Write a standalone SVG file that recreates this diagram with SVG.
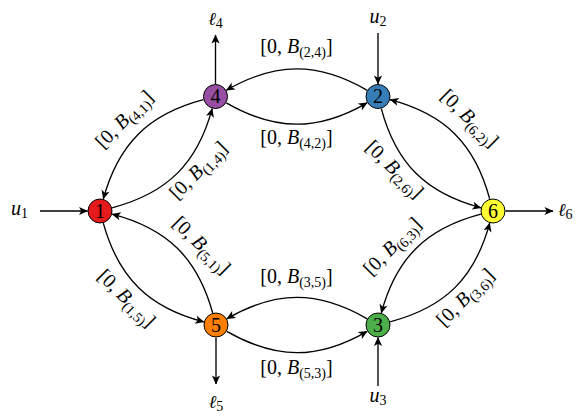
<svg xmlns="http://www.w3.org/2000/svg" width="577" height="416" viewBox="0 0 577 416">
  <defs>
    <marker id="ah" viewBox="-9 -5 10 10" refX="0" refY="0" markerWidth="10" markerHeight="10" orient="auto" markerUnits="userSpaceOnUse">
      <path d="M0.5,0 L-8.5,-4.1 L-6.2,0 L-8.5,4.1 Z" fill="#000"/>
    </marker>
    <style>
      .e { fill: none; stroke: #000; stroke-width: 1.35; marker-end: url(#ah); }
      .n { stroke: #000; stroke-width: 1; }
      .t { font-family: "Liberation Serif", "Times New Roman", serif; font-size: 20px; fill: #000; }
      .i { font-style: italic; }
      .s { font-size: 14px; font-style: normal; }
      .ell { font-family: "DejaVu Serif", serif; font-style: italic; font-size: 18px; }
    </style>
  </defs>
  <rect width="577" height="416" fill="#fff"/>

  <!-- directed links between the six nodes, plus inputs and outputs -->
  <g id="edges">
    <path class="e" d="M367.2,90.3 C317.8,61.8 275.7,61.8 226.3,90.3"/>
    <path class="e" d="M226.3,102.8 C275.7,131.3 317.8,131.3 367.2,102.8"/>
    <path class="e" d="M367.2,318.8 C317.8,290.3 276.2,290.3 226.8,318.8"/>
    <path class="e" d="M226.8,331.3 C276.2,359.8 317.8,359.8 367.2,331.3"/>
    <path class="e" d="M203.4,99.7 C148.3,114.2 118.3,144.0 103.3,198.9"/>
    <path class="e" d="M112.1,207.8 C167.2,193.3 197.2,163.6 212.2,108.6"/>
    <path class="e" d="M103.3,223.1 C118.6,278.0 148.7,307.6 203.9,321.9"/>
    <path class="e" d="M212.7,313.0 C197.4,258.0 167.3,228.4 112.1,214.1"/>
    <path class="e" d="M381.3,108.6 C396.1,163.6 425.8,193.2 480.9,207.8"/>
    <path class="e" d="M489.7,198.9 C474.9,143.9 445.2,114.3 390.1,99.7"/>
    <path class="e" d="M480.9,214.2 C425.8,228.7 396.3,258.0 381.3,312.9"/>
    <path class="e" d="M390.1,321.8 C445.2,307.3 474.7,278.1 489.7,223.1"/>
    <path class="e" d="M40,211 H87.5"/>
    <path class="e" d="M505.5,211 H553"/>
    <path class="e" d="M215.5,84 V35"/>
    <path class="e" d="M378,33 V84"/>
    <path class="e" d="M216,337.5 V384"/>
    <path class="e" d="M378,386 V337.5"/>
  </g>

  <!-- capacity intervals on the links -->
  <g id="edge-labels" class="t" text-anchor="middle">
    <text x="296.5" y="53">[0, <tspan class="i">B</tspan><tspan class="s" dy="4">(2,4)</tspan><tspan dy="-4">]</tspan></text>
    <text x="296.5" y="144">[0, <tspan class="i">B</tspan><tspan class="s" dy="4">(4,2)</tspan><tspan dy="-4">]</tspan></text>
    <text x="296.5" y="283">[0, <tspan class="i">B</tspan><tspan class="s" dy="4">(3,5)</tspan><tspan dy="-4">]</tspan></text>
    <text x="296.5" y="374">[0, <tspan class="i">B</tspan><tspan class="s" dy="4">(5,3)</tspan><tspan dy="-4">]</tspan></text>
    <text transform="translate(126,121) rotate(-45)" y="4">[0, <tspan class="i">B</tspan><tspan class="s" dy="4">(4,1)</tspan><tspan dy="-4">]</tspan></text>
    <text transform="translate(200,172) rotate(-45)" y="4">[0, <tspan class="i">B</tspan><tspan class="s" dy="4">(1,4)</tspan><tspan dy="-4">]</tspan></text>
    <text transform="translate(468,120) rotate(45)" y="4">[0, <tspan class="i">B</tspan><tspan class="s" dy="4">(6,2)</tspan><tspan dy="-4">]</tspan></text>
    <text transform="translate(393,171) rotate(45)" y="4">[0, <tspan class="i">B</tspan><tspan class="s" dy="4">(2,6)</tspan><tspan dy="-4">]</tspan></text>
    <text transform="translate(200,247) rotate(45)" y="4">[0, <tspan class="i">B</tspan><tspan class="s" dy="4">(5,1)</tspan><tspan dy="-4">]</tspan></text>
    <text transform="translate(125,300) rotate(45)" y="4">[0, <tspan class="i">B</tspan><tspan class="s" dy="4">(1,5)</tspan><tspan dy="-4">]</tspan></text>
    <text transform="translate(394,248) rotate(-45)" y="4">[0, <tspan class="i">B</tspan><tspan class="s" dy="4">(6,3)</tspan><tspan dy="-4">]</tspan></text>
    <text transform="translate(467,299) rotate(-45)" y="4">[0, <tspan class="i">B</tspan><tspan class="s" dy="4">(3,6)</tspan><tspan dy="-4">]</tspan></text>
  </g>

  <!-- inputs u and outputs ℓ -->
  <g id="io-labels" class="t">
    <text x="11" y="215"><tspan class="i">u</tspan><tspan class="s" dy="3">1</tspan></text>
    <text x="558" y="216"><tspan class="ell">ℓ</tspan><tspan class="s" dy="3">6</tspan></text>
    <text x="215.5" y="25" text-anchor="middle"><tspan class="ell">ℓ</tspan><tspan class="s" dy="3">4</tspan></text>
    <text x="378" y="23" text-anchor="middle"><tspan class="i">u</tspan><tspan class="s" dy="3">2</tspan></text>
    <text x="216" y="408" text-anchor="middle"><tspan class="ell">ℓ</tspan><tspan class="s" dy="3">5</tspan></text>
    <text x="378" y="402" text-anchor="middle"><tspan class="i">u</tspan><tspan class="s" dy="3">3</tspan></text>
  </g>

  <g id="node1"><circle class="n" cx="100" cy="211" r="12" fill="#e41a1c"/><text class="t" x="100" y="217.8" text-anchor="middle">1</text></g>
  <g id="node2"><circle class="n" cx="378" cy="96.5" r="12" fill="#377eb8"/><text class="t" x="378" y="103.3" text-anchor="middle">2</text></g>
  <g id="node3"><circle class="n" cx="378" cy="325" r="12" fill="#4daf4a"/><text class="t" x="378" y="331.8" text-anchor="middle">3</text></g>
  <g id="node4"><circle class="n" cx="215.5" cy="96.5" r="12" fill="#984ea3"/><text class="t" x="215.5" y="103.3" text-anchor="middle">4</text></g>
  <g id="node5"><circle class="n" cx="216" cy="325" r="12" fill="#ff7f00"/><text class="t" x="216" y="331.8" text-anchor="middle">5</text></g>
  <g id="node6"><circle class="n" cx="493" cy="211" r="12" fill="#ffff33"/><text class="t" x="493" y="217.8" text-anchor="middle">6</text></g>
</svg>
